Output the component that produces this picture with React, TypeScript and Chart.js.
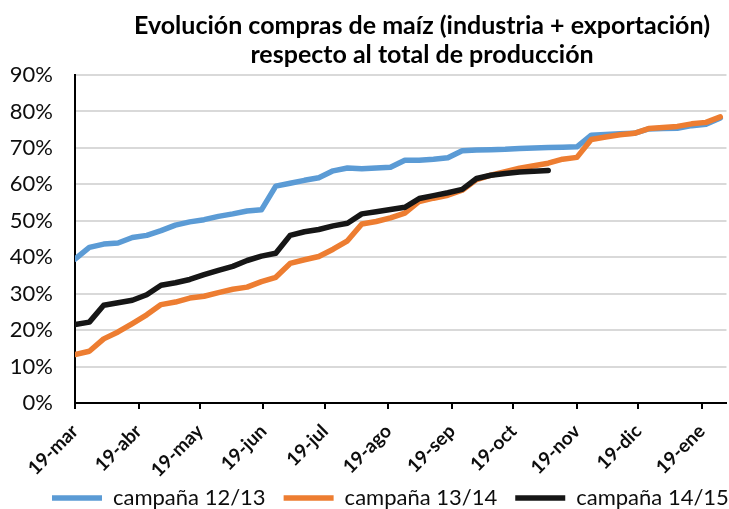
import React, { useEffect, useRef } from "react";
import { Chart, registerables } from "chart.js";

Chart.register(...registerables);

const TITLE_LINES = [
  "Evolución compras de maíz (industria + exportación)",
  "respecto al total de producción",
];

// days elapsed since 19-mar for each weekly observation
const WEEK_DAYS = [
  0, 7, 14, 21, 28, 35, 42, 49, 56, 63, 70, 77, 84, 91, 98, 105, 112, 119, 126, 133,
  140, 147, 154, 161, 168, 175, 182, 189, 196, 203, 210, 217, 224, 231, 238, 245,
  252, 259, 266, 273, 280, 287, 294, 301, 308, 315,
];

// month tick positions (days since 19-mar) and their labels
const MONTH_DAYS = [0, 31, 61, 92, 122, 153, 184, 214, 245, 275, 306];
const MONTH_LABELS = [
  "19-mar", "19-abr", "19-may", "19-jun", "19-jul", "19-ago",
  "19-sep", "19-oct", "19-nov", "19-dic", "19-ene",
];

const SERIES_NAMES = ["campaña 12/13", "campaña 13/14", "campaña 14/15"];

const CAMPANA_12_13 = [
  39.5, 42.7, 43.6, 43.9, 45.4, 46.0, 47.3, 48.8, 49.7, 50.3, 51.2, 51.9, 52.7, 53.0,
  59.5, 60.3, 61.1, 61.8, 63.7, 64.5, 64.3, 64.5, 64.7, 66.6, 66.6, 66.9, 67.3, 69.2,
  69.4, 69.5, 69.6, 69.8, 70.0, 70.1, 70.2, 70.3, 73.5, 73.7, 73.9, 74.0, 75.2, 75.3,
  75.4, 76.1, 76.5, 78.2,
];

const CAMPANA_13_14 = [
  13.3, 14.2, 17.6, 19.5, 21.8, 24.2, 27.0, 27.7, 28.8, 29.3, 30.3, 31.2, 31.8, 33.3,
  34.5, 38.3, 39.3, 40.2, 42.2, 44.5, 49.1, 49.8, 50.8, 52.1, 55.3, 56.2, 57.0, 58.4,
  61.3, 62.5, 63.5, 64.4, 65.1, 65.8, 66.9, 67.4, 72.3, 73.0, 73.6, 74.0, 75.3, 75.6,
  75.9, 76.6, 77.0, 78.5,
];

const CAMPANA_14_15 = [
  21.5, 22.2, 26.8, 27.5, 28.2, 29.7, 32.3, 33.0, 33.9, 35.2, 36.4, 37.5, 39.1, 40.3,
  41.1, 46.0, 47.0, 47.6, 48.6, 49.3, 51.9, 52.5, 53.1, 53.7, 56.1, 56.9, 57.7, 58.6,
  61.6, 62.5, 63.0, 63.4, 63.6, 63.8,
];

const COLORS = ["#5B9BD5", "#ED7D31", "#161616"];

const FONT = "Lato";

const toPoints = (values: number[]) =>
  values.map((v, i) => ({ x: WEEK_DAYS[i], y: v }));

const placementPlugin = {
  id: "placement",
  afterLayout(chart: any) {
    const t = chart.titleBlock;
    if (t) {
      const w = t.right - t.left;
      const cx = 422;
      t.left = cx - w / 2;
      t.right = cx + w / 2;
    }
    const lg = chart.legend;
    if (lg) {
      const h = lg.bottom - lg.top;
      const w = lg.right - lg.left;
      const pad = lg.options.labels.padding;
      lg.left = 52 - pad;
      lg.right = lg.left + w;
      lg.top = 498 - pad - 11;
      lg.bottom = lg.top + h;
    }
    const xs = chart.scales && chart.scales.x;
    if (xs) {
      // let the rotated tick labels extend below the axis box without clipping
      xs.bottom = chart.height;
    }
  },
};

export default function App() {
  const canvasRef = useRef<HTMLCanvasElement | null>(null);

  useEffect(() => {
    const canvas = canvasRef.current;
    if (!canvas) return;
    const series = [CAMPANA_12_13, CAMPANA_13_14, CAMPANA_14_15];
    const chart = new Chart(canvas, {
      type: "line",
      data: {
        datasets: series.map((s, i) => ({
          label: SERIES_NAMES[i],
          data: toPoints(s),
          borderColor: COLORS[i],
          backgroundColor: COLORS[i],
          borderWidth: 5.5,
          borderCapStyle: "round",
          borderJoinStyle: "round",
          pointRadius: 0,
          tension: 0,
          fill: false,
          order: 3 - i,
        })),
      },
      plugins: [placementPlugin],
      options: {
        responsive: false,
        animation: false,
        events: [],
        layout: { padding: { top: 0, left: 0, right: 0, bottom: 0 } },
        scales: {
          x: {
            type: "linear",
            min: 0,
            max: 318,
            afterBuildTicks: (scale: any) => {
              scale.ticks = MONTH_DAYS.map((v) => ({ value: v }));
            },
            afterFit: (scale: any) => {
              scale.height = 56;
            },
            ticks: {
              autoSkip: false,
              maxRotation: 45,
              minRotation: 45,
              padding: 11,
              color: "#0d0d0d",
              font: { family: FONT, size: 19, weight: "bold" },
              callback: (_v: any, index: number) => MONTH_LABELS[index],
            },
            grid: {
              drawOnChartArea: false,
              drawTicks: true,
              tickLength: 6,
              color: "#000",
              lineWidth: 2,
            },
            border: { display: true, color: "#000", width: 2 },
          },
          y: {
            min: 0,
            max: 90,
            afterFit: (scale: any) => {
              scale.width = 75;
            },
            ticks: {
              stepSize: 10,
              padding: 22,
              color: "#0d0d0d",
              font: { family: FONT, size: 22 },
              callback: (v: any) => v + "%",
            },
            grid: {
              color: "#d9d9d9",
              lineWidth: 2,
              drawTicks: false,
            },
            border: { display: true, color: "#000", width: 2 },
          },
        },
        plugins: {
          tooltip: { enabled: false },
          title: {
            display: true,
            text: TITLE_LINES,
            color: "#000",
            font: { family: FONT, size: 25, weight: "bold", lineHeight: "29px" },
            padding: { top: 11, bottom: 6 },
          },
          legend: {
            display: true,
            position: "bottom",
            align: "start",
            labels: {
              usePointStyle: true,
              pointStyle: "line",
              pointStyleWidth: 50,
              padding: 18,
              color: "#0d0d0d",
              font: { family: FONT, size: 22 },
              sort: (a: any, b: any) => a.datasetIndex - b.datasetIndex,
            },
          },
        },
      },
    } as any);
    return () => chart.destroy();
  }, []);

  return (
    <div style={{ position: "absolute", left: 0, top: 0, width: 729, height: 509, background: "#fff" }}>
      <canvas ref={canvasRef} width={729} height={509} style={{ display: "block" }} />
    </div>
  );
}
